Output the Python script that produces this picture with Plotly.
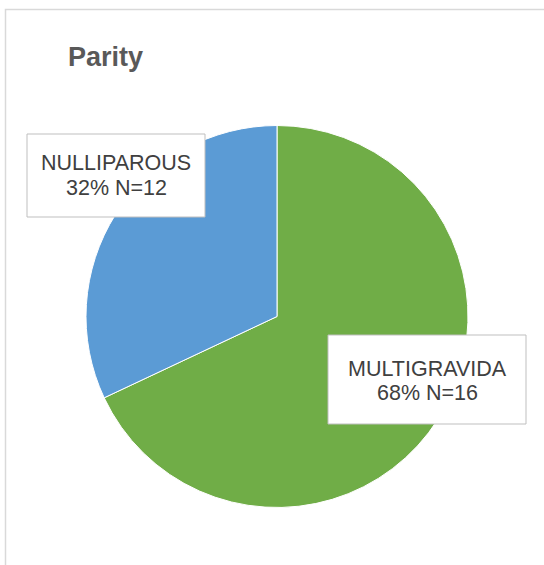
import plotly.graph_objects as go

# Data
categories = ["MULTIGRAVIDA", "NULLIPAROUS"]
percentages = [68, 32]
counts = [16, 12]
colours = ["#70AD47", "#5B9BD5"]
title_text = "Parity"

W, H = 544, 565


def px_x(x):
    return x / W


def px_y(y):
    return 1 - y / H


fig = go.Figure()

# Pie: first slice starts at 12 o'clock and runs clockwise
fig.add_trace(go.Pie(
    labels=categories,
    values=percentages,
    sort=False,
    direction="clockwise",
    rotation=0,
    marker=dict(colors=colours, line=dict(color="white", width=1)),
    textinfo="none",
    hoverinfo="label+percent",
    showlegend=False,
    domain=dict(x=[px_x(86), px_x(468)], y=[px_y(508), px_y(125)]),
))

# Label boxes: left, top, right, bottom, line-1 centre y, line-2 centre y (pixels)
boxes = [(328, 335, 526, 424, 369, 393), (27, 134, 205, 217, 163, 188)]

# Outer chart frame (right and bottom edges fall outside the picture)
shapes = [dict(
    type="rect", xref="paper", yref="paper",
    x0=px_x(5.5), x1=1.05, y0=-0.05, y1=px_y(9.5),
    line=dict(color="#d9d9d9", width=1.5),
    fillcolor="rgba(0,0,0,0)", layer="below",
)]
annotations = []
label_font = dict(family="Liberation Sans, Arial", size=21.5, color="#404040")
for cat, pct, n, (x0, y0, x1, y1, l1, l2) in zip(categories, percentages, counts, boxes):
    shapes.append(dict(
        type="rect", xref="paper", yref="paper",
        x0=px_x(x0), x1=px_x(x1), y0=px_y(y1), y1=px_y(y0),
        line=dict(color="#bfbfbf", width=1),
        fillcolor="white", layer="above",
    ))
    cx = px_x((x0 + x1) / 2)
    for txt, ly in ((cat, l1), (f"{pct}% N={n}", l2)):
        annotations.append(dict(
            text=txt, xref="paper", yref="paper",
            x=cx, y=px_y(ly), xanchor="center", yanchor="middle",
            showarrow=False, font=label_font,
        ))

# Title
annotations.append(dict(
    text=f"<b>{title_text}</b>",
    xref="paper", yref="paper",
    x=px_x(66), y=px_y(57),
    xanchor="left", yanchor="middle",
    showarrow=False,
    font=dict(family="Liberation Sans, Arial", size=27, color="#595959"),
))

fig.update_layout(
    width=W,
    height=H,
    margin=dict(l=0, r=0, t=0, b=0),
    paper_bgcolor="white",
    plot_bgcolor="white",
    annotations=annotations,
    shapes=shapes,
)

# drop the default 8px body margin so the figure fills the window exactly
fig.write_html("out.html", config={"displayModeBar": False},
               post_script="document.body.style.margin='0';")
